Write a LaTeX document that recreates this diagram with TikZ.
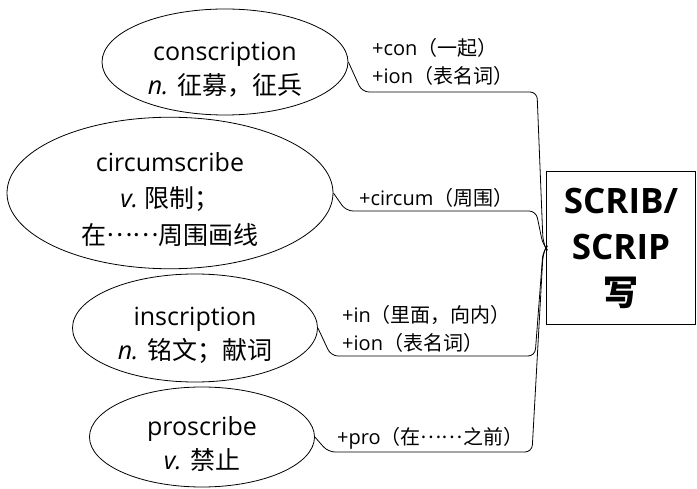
\documentclass[tikz,border=0pt]{standalone}
\usepackage{fontspec}
\setmainfont{Open Sans}
\newfontfamily\cjk{Noto Sans CJK SC}
\usepackage{tikz}
\usetikzlibrary{shapes.geometric,positioning}
\usepackage{xcolor}
\definecolor{ink}{HTML}{000000}
\definecolor{paper}{HTML}{FFFFFF}
\newcommand\middots{\raisebox{.3em}{……}}
\tikzset{
  word/.style={ellipse,draw=ink,thick,fill=paper,align=center,inner sep=0pt,font=\fontsize{25}{34}\selectfont},
  root/.style={draw=ink,line width=1.6pt,fill=paper,align=center,inner sep=0pt,minimum width=149pt,minimum height=153pt,font=\fontsize{35}{46}\selectfont\bfseries},
  affix/.style={anchor=west,align=left,inner sep=0pt,font=\fontsize{20}{28}\selectfont},
  link/.style={draw=ink,thick,rounded corners=7pt}
}

\begin{document}
\begin{tikzpicture}[x=1pt,y=-1pt]
\useasboundingbox (0,0) rectangle (697,489);
\node[word,minimum width=246pt,minimum height=106pt] (conscr) at (225,62) {\rule{0pt}{34pt}conscription\\\textit{n.} {\cjk 征募，征兵}};
\node[word,minimum width=326pt,minimum height=142pt,font=\fontsize{25}{36.5}\selectfont] (circum) at (170,193) {\rule{0pt}{32pt}circumscribe\\\textit{v.}~{\cjk 限制；}\\{\cjk 在\middots 周围画线}};
\node[word,minimum width=245pt,minimum height=108pt] (inscr) at (195,328) {\rule{0pt}{34pt}inscription\\\textit{n.} {\cjk 铭文；献词}};
\node[word,minimum width=225pt,minimum height=100pt] (proscr) at (202,437) {\rule{0pt}{34pt}proscribe\\\textit{v.} {\cjk 禁止}};
\node[root] (scrib) at (621,248) {SCRIB/\\SCRIP\\{\cjk 写}};
% affix labels
\node[affix] (lcon) at (372,62) {+con{\cjk（一起）}\\+ion{\cjk（表名词）}};
\node[affix] (lcirc) at (359,198) {+circum{\cjk（周围）}};
\node[affix] (lin) at (342,329) {+in{\cjk（里面，向内）}\\+ion{\cjk（表名词）}};
\node[affix] (lpro) at (337,438) {+pro{\cjk（在\middots 之前）}};
% connectors
\draw[link] (conscr.east) -- (362,92) -- (537,92) -- (543,242) -- (scrib.west);
\draw[link] (circum.east) -- (346,211) -- (536,211) -- (543,245) -- (scrib.west);
\draw[link] (inscr.east) -- (331,356) -- (535,356) -- (543,251) -- (scrib.west);
\draw[link] (proscr.east) -- (328,452) -- (532,452) -- (543,254) -- (scrib.west);
\end{tikzpicture}
\end{document}
